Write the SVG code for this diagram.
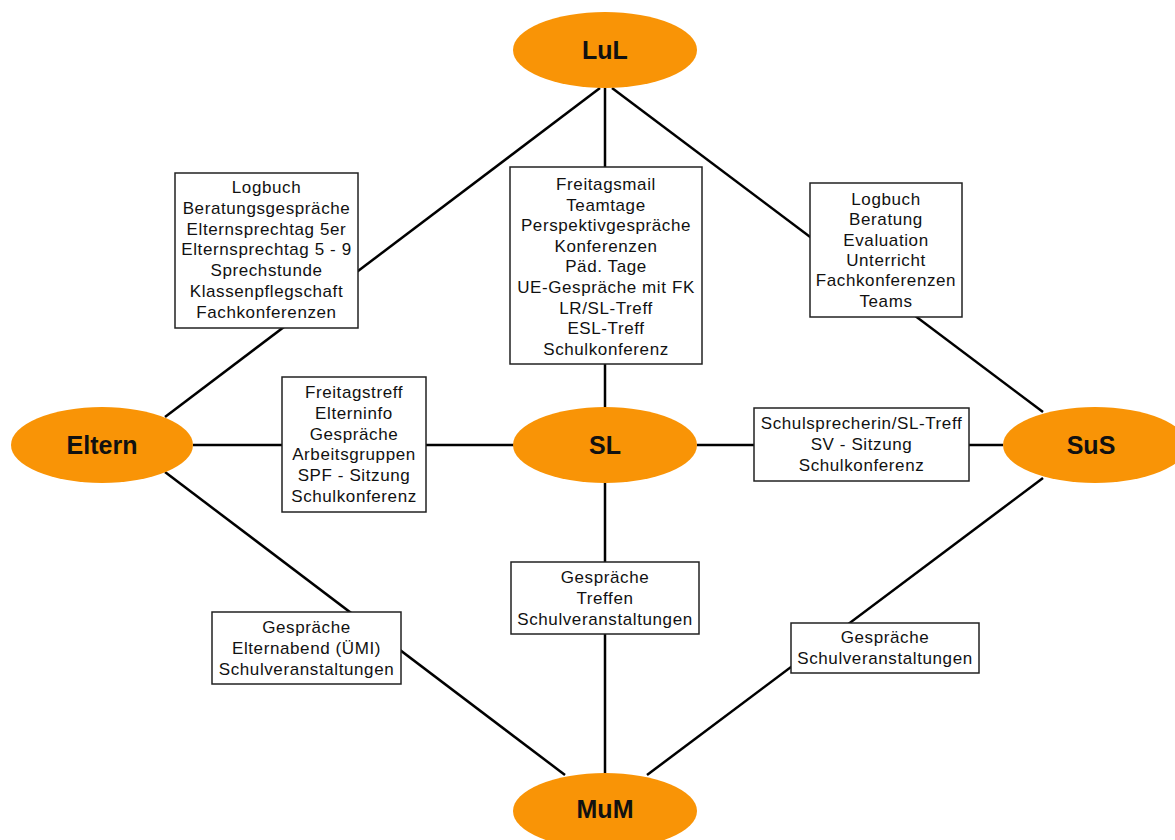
<svg xmlns="http://www.w3.org/2000/svg" width="1175" height="840" viewBox="0 0 1175 840">
<style>
.bg{fill:#ffffff}
.ell{fill:#F99406}
.lbl{font-family:"Liberation Sans",Arial,sans-serif;font-size:25px;font-weight:bold;fill:#111;text-anchor:middle}
.box{fill:#ffffff;stroke:#222;stroke-width:1.5}
.txt{font-family:"Liberation Sans",Arial,sans-serif;font-size:17px;letter-spacing:0.6px;fill:#111;text-anchor:middle}
.con line{stroke:#000;stroke-width:2.5}
</style>
<rect class="bg" x="0" y="0" width="1175" height="840"/>
<g id="connectors" class="con">
<line x1="600" y1="88" x2="165" y2="417"/>
<line x1="605" y1="88" x2="605" y2="407"/>
<line x1="612" y1="88" x2="1043" y2="412"/>
<line x1="193" y1="445" x2="514" y2="445"/>
<line x1="697" y1="445" x2="1003" y2="445"/>
<line x1="165" y1="472" x2="565" y2="775"/>
<line x1="605" y1="483" x2="605" y2="773"/>
<line x1="1043" y1="478" x2="647" y2="775"/>
</g>
<g id="LuL"><ellipse class="ell" cx="605" cy="50" rx="92" ry="38"/><text class="lbl" x="605" y="59">LuL</text></g>
<g id="Eltern"><ellipse class="ell" cx="102" cy="445" rx="91" ry="38"/><text class="lbl" x="102" y="454">Eltern</text></g>
<g id="SL"><ellipse class="ell" cx="605" cy="445" rx="92" ry="38"/><text class="lbl" x="605" y="454">SL</text></g>
<g id="SuS"><ellipse class="ell" cx="1095" cy="445" rx="92" ry="38"/><text class="lbl" x="1091" y="454">SuS</text></g>
<g id="MuM"><ellipse class="ell" cx="605" cy="811" rx="92" ry="38"/><text class="lbl" x="605" y="818">MuM</text></g>
<g id="box-lul-eltern"><rect class="box" x="175" y="173" width="183" height="155"/>
<text class="txt" x="266.5" y="193">Logbuch<tspan x="266.5" dy="20.8">Beratungsgespräche</tspan><tspan x="266.5" dy="20.8">Elternsprechtag 5er</tspan><tspan x="266.5" dy="20.8">Elternsprechtag 5 - 9</tspan><tspan x="266.5" dy="20.8">Sprechstunde</tspan><tspan x="266.5" dy="20.8">Klassenpflegschaft</tspan><tspan x="266.5" dy="20.8">Fachkonferenzen</tspan></text></g>
<g id="box-lul-sl"><rect class="box" x="510" y="167" width="192" height="197"/>
<text class="txt" x="606" y="190">Freitagsmail<tspan x="606" dy="20.6">Teamtage</tspan><tspan x="606" dy="20.6">Perspektivgespräche</tspan><tspan x="606" dy="20.6">Konferenzen</tspan><tspan x="606" dy="20.6">Päd. Tage</tspan><tspan x="606" dy="20.6">UE-Gespräche mit FK</tspan><tspan x="606" dy="20.6">LR/SL-Treff</tspan><tspan x="606" dy="20.6">ESL-Treff</tspan><tspan x="606" dy="20.6">Schulkonferenz</tspan></text></g>
<g id="box-lul-sus"><rect class="box" x="810" y="183" width="152" height="134"/>
<text class="txt" x="886" y="205">Logbuch<tspan x="886" dy="20.3">Beratung</tspan><tspan x="886" dy="20.3">Evaluation</tspan><tspan x="886" dy="20.3">Unterricht</tspan><tspan x="886" dy="20.3">Fachkonferenzen</tspan><tspan x="886" dy="20.3">Teams</tspan></text></g>
<g id="box-eltern-sl"><rect class="box" x="282" y="377" width="144" height="135"/>
<text class="txt" x="354" y="398">Freitagstreff<tspan x="354" dy="20.8">Elterninfo</tspan><tspan x="354" dy="20.8">Gespräche</tspan><tspan x="354" dy="20.8">Arbeitsgruppen</tspan><tspan x="354" dy="20.8">SPF - Sitzung</tspan><tspan x="354" dy="20.8">Schulkonferenz</tspan></text></g>
<g id="box-sl-sus"><rect class="box" x="754" y="408" width="215" height="73"/>
<text class="txt" x="861.5" y="429">Schulsprecherin/SL-Treff<tspan x="861.5" dy="20.8">SV - Sitzung</tspan><tspan x="861.5" dy="20.8">Schulkonferenz</tspan></text></g>
<g id="box-eltern-mum"><rect class="box" x="212" y="612" width="189" height="72"/>
<text class="txt" x="306.5" y="633">Gespräche<tspan x="306.5" dy="20.8">Elternabend (ÜMI)</tspan><tspan x="306.5" dy="20.8">Schulveranstaltungen</tspan></text></g>
<g id="box-sl-mum"><rect class="box" x="511" y="562" width="188" height="72"/>
<text class="txt" x="605" y="583">Gespräche<tspan x="605" dy="20.8">Treffen</tspan><tspan x="605" dy="20.8">Schulveranstaltungen</tspan></text></g>
<g id="box-sus-mum"><rect class="box" x="791" y="623" width="188" height="50"/>
<text class="txt" x="885" y="643">Gespräche<tspan x="885" dy="20.8">Schulveranstaltungen</tspan></text></g>
</svg>
